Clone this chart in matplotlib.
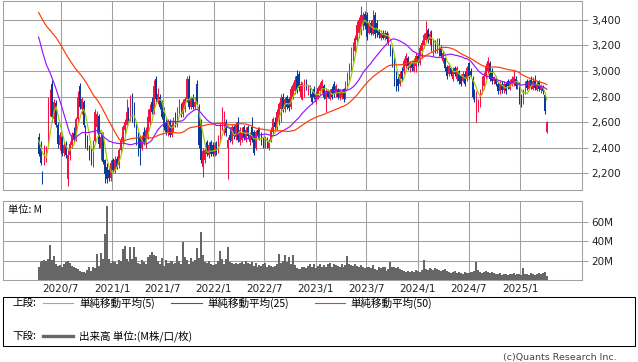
import numpy as np
import pandas as pd
import matplotlib
matplotlib.use("Agg")
import matplotlib.pyplot as plt
import matplotlib.dates as mdates
from matplotlib.patches import Rectangle
from matplotlib.lines import Line2D

# ---------------- data (weekly candles) ----------------
first_week = "2020-04-13"

opens = [
    2480, 2400, 2210, 2280, 2300, 2420, 2680, 2900, 2620, 2750,
    2580, 2420, 2480, 2360, 2430, 2150, 2340, 2420, 2510, 2460,
    2620, 2880, 2700, 2760, 2560, 2420, 2400, 2330, 2280, 2450,
    2560, 2650, 2400, 2500, 2300, 2250, 2220, 2160, 2300, 2220,
    2310, 2260, 2380, 2440, 2540, 2580, 2700, 2620, 2800, 2700,
    2560, 2500, 2480, 2400, 2520, 2440, 2480, 2600, 2760, 2680,
    2940, 2760, 2800, 2760, 2680, 2600, 2520, 2600, 2500, 2540,
    2660, 2580, 2680, 2740, 2660, 2700, 2780, 2940, 2720, 2800,
    2720, 2900, 2720, 2600, 2250, 2300, 2440, 2340, 2440, 2420,
    2350, 2430, 2380, 2470, 2560, 2600, 2600, 2400, 2500, 2450,
    2560, 2480, 2600, 2440, 2460, 2560, 2460, 2560, 2440, 2560,
    2520, 2400, 2540, 2480, 2500, 2460, 2420, 2470, 2400, 2450,
    2520, 2600, 2560, 2620, 2700, 2800, 2700, 2800, 2780, 2720,
    2800, 2840, 2960, 2980, 2800, 2820, 2820, 2920, 2840, 2880,
    2820, 2860, 2760, 2800, 2840, 2850, 2880, 2780, 2840, 2780,
    2860, 2900, 2820, 2860, 2790, 2800, 2860, 2800, 2880, 2950,
    3020, 3100, 3160, 3240, 3300, 3320, 3360, 3450, 3440, 3300,
    3380, 3290, 3440, 3380, 3310, 3260, 3300, 3260, 3300, 3220,
    3200, 3160, 3100, 2980, 2940, 2900, 3000, 3000, 3040, 3100,
    3020, 3060, 3000, 3040, 3120, 3060, 3160, 3200, 3240, 3320,
    3240, 3300, 3140, 3220, 3160, 3240, 3180, 3080, 3100, 3030,
    2980, 3020, 2940, 3020, 2940, 3000, 2960, 2920, 2980, 2940,
    3060, 3000, 2940, 2840, 2720, 2700, 2740, 2840, 2880, 2960,
    3000, 3060, 3000, 2920, 2940, 2900, 2840, 2900, 2850, 2900,
    2920, 2860, 2900, 2900, 2940, 2870, 2900, 2800, 2760, 2840,
    2920, 2860, 2930, 2860, 2920, 2850, 2910, 2850, 2880, 2810,
    2520,
]
highs = [
    2510, 2450, 2215, 2420, 2410, 2800, 2860, 2930, 2780, 2770,
    2600, 2520, 2500, 2440, 2450, 2380, 2450, 2520, 2560, 2640,
    2840, 2905, 2800, 2770, 2580, 2500, 2420, 2400, 2460, 2700,
    2690, 2660, 2520, 2520, 2310, 2280, 2250, 2300, 2320, 2330,
    2330, 2400, 2480, 2580, 2620, 2780, 2720, 2810, 2825, 2760,
    2600, 2520, 2500, 2500, 2560, 2560, 2700, 2740, 2800, 2930,
    2960, 2870, 2820, 2770, 2720, 2640, 2620, 2620, 2600, 2640,
    2680, 2720, 2780, 2750, 2780, 2800, 2960, 2970, 2800, 2820,
    2800, 2930, 2740, 2620, 2400, 2400, 2460, 2440, 2460, 2440,
    2440, 2450, 2500, 2600, 2720, 2690, 2620, 2480, 2560, 2580,
    2580, 2600, 2640, 2560, 2560, 2580, 2560, 2580, 2520, 2640,
    2540, 2540, 2560, 2560, 2520, 2480, 2490, 2480, 2470, 2560,
    2640, 2640, 2700, 2760, 2820, 2830, 2800, 2810, 2800, 2880,
    2910, 2960, 3010, 3000, 2920, 2910, 2940, 2940, 2890, 2890,
    2840, 2880, 2840, 2880, 2910, 2940, 2900, 2860, 2860, 2860,
    2880, 2920, 2900, 2870, 2860, 2860, 2870, 2920, 2990, 3060,
    3190, 3230, 3280, 3390, 3420, 3510, 3460, 3470, 3460, 3400,
    3400, 3480, 3460, 3400, 3330, 3320, 3320, 3320, 3310, 3300,
    3210, 3190, 3110, 3000, 2960, 3000, 3030, 3100, 3140, 3120,
    3080, 3080, 3100, 3140, 3140, 3200, 3240, 3300, 3390, 3340,
    3310, 3320, 3250, 3240, 3260, 3260, 3200, 3160, 3110, 3050,
    3060, 3030, 3030, 3040, 3040, 3010, 2980, 3000, 3000, 3040,
    3070, 3020, 2960, 2860, 2840, 2780, 2860, 2960, 2990, 3060,
    3110, 3080, 3020, 2960, 2960, 2920, 2920, 2920, 2920, 2910,
    2940, 2940, 2960, 3010, 2960, 2930, 2910, 2820, 2860, 2920,
    2940, 2940, 2960, 2950, 2970, 2920, 2930, 2900, 2890, 2820,
    2610,
]
lows = [
    2330, 2260, 2110, 2260, 2290, 2410, 2650, 2600, 2590, 2560,
    2400, 2380, 2330, 2330, 2320, 2100, 2300, 2400, 2440, 2450,
    2600, 2700, 2660, 2560, 2400, 2380, 2300, 2260, 2250, 2440,
    2510, 2400, 2300, 2270, 2120, 2120, 2140, 2140, 2200, 2200,
    2230, 2240, 2360, 2420, 2500, 2560, 2600, 2610, 2600, 2560,
    2420, 2330, 2260, 2380, 2420, 2400, 2470, 2580, 2660, 2660,
    2760, 2740, 2700, 2620, 2540, 2500, 2490, 2480, 2480, 2520,
    2560, 2560, 2660, 2640, 2640, 2680, 2760, 2700, 2700, 2700,
    2700, 2720, 2400, 2280, 2170, 2280, 2330, 2320, 2330, 2330,
    2330, 2340, 2360, 2440, 2540, 2500, 2490, 2150, 2440, 2430,
    2470, 2460, 2440, 2420, 2440, 2460, 2440, 2470, 2420, 2440,
    2340, 2380, 2470, 2460, 2420, 2400, 2400, 2400, 2380, 2440,
    2500, 2540, 2540, 2580, 2600, 2680, 2680, 2700, 2690, 2700,
    2780, 2820, 2830, 2840, 2780, 2770, 2800, 2850, 2810, 2800,
    2740, 2780, 2740, 2780, 2820, 2830, 2780, 2680, 2790, 2770,
    2780, 2800, 2800, 2780, 2770, 2780, 2760, 2780, 2860, 2930,
    3000, 3080, 3140, 3230, 3260, 3280, 3320, 3330, 3240, 3290,
    3280, 3280, 3260, 3270, 3260, 3240, 3250, 3240, 3230, 3200,
    3120, 3030, 2880, 2840, 2840, 2880, 2920, 2980, 3020, 3010,
    2990, 3000, 2990, 2990, 3040, 3050, 3100, 3180, 3220, 3220,
    3200, 3160, 3120, 3140, 3140, 3120, 3100, 3060, 3000, 2940,
    2960, 2960, 2920, 2960, 2920, 2900, 2880, 2910, 2880, 2920,
    2940, 2950, 2780, 2760, 2600, 2680, 2720, 2820, 2860, 2940,
    2980, 2920, 2900, 2900, 2880, 2820, 2820, 2830, 2830, 2820,
    2860, 2850, 2880, 2880, 2860, 2860, 2740, 2720, 2740, 2820,
    2850, 2850, 2860, 2850, 2850, 2840, 2840, 2830, 2820, 2660,
    2510,
]
closes = [
    2350, 2280, 2180, 2400, 2400, 2780, 2840, 2640, 2760, 2580,
    2430, 2500, 2350, 2420, 2340, 2340, 2430, 2500, 2460, 2620,
    2800, 2720, 2780, 2580, 2420, 2400, 2310, 2280, 2440, 2680,
    2660, 2430, 2480, 2290, 2190, 2150, 2160, 2280, 2220, 2300,
    2250, 2380, 2460, 2560, 2600, 2680, 2640, 2700, 2640, 2580,
    2440, 2360, 2400, 2480, 2440, 2540, 2640, 2700, 2680, 2880,
    2780, 2820, 2720, 2640, 2560, 2520, 2600, 2500, 2580, 2620,
    2580, 2700, 2760, 2660, 2760, 2780, 2940, 2720, 2780, 2720,
    2760, 2740, 2420, 2300, 2370, 2380, 2350, 2420, 2350, 2350,
    2420, 2360, 2480, 2580, 2650, 2660, 2510, 2460, 2460, 2560,
    2490, 2580, 2460, 2540, 2520, 2480, 2540, 2490, 2500, 2460,
    2360, 2520, 2490, 2530, 2440, 2420, 2470, 2410, 2450, 2540,
    2620, 2560, 2680, 2740, 2790, 2700, 2780, 2720, 2710, 2860,
    2890, 2930, 2850, 2870, 2900, 2880, 2920, 2870, 2880, 2820,
    2760, 2800, 2820, 2870, 2890, 2920, 2800, 2840, 2800, 2840,
    2800, 2820, 2880, 2800, 2850, 2840, 2780, 2900, 2970, 3040,
    3120, 3200, 3260, 3360, 3400, 3440, 3440, 3350, 3270, 3380,
    3300, 3400, 3290, 3300, 3280, 3300, 3260, 3300, 3250, 3280,
    3140, 3050, 2900, 2860, 2880, 2980, 2940, 3080, 3120, 3040,
    3060, 3020, 3080, 3120, 3060, 3180, 3220, 3280, 3300, 3240,
    3290, 3180, 3230, 3160, 3240, 3140, 3120, 3140, 3020, 2960,
    3040, 2980, 3000, 2980, 3020, 2920, 2900, 2980, 2900, 3020,
    2960, 2970, 2800, 2780, 2820, 2760, 2840, 2940, 2960, 3040,
    3080, 2940, 2920, 2950, 2900, 2840, 2900, 2850, 2900, 2840,
    2880, 2920, 2940, 2950, 2880, 2910, 2760, 2740, 2840, 2900,
    2870, 2920, 2880, 2920, 2870, 2900, 2860, 2880, 2840, 2690,
    2600,
]
# weekly volume, millions of shares
volumes_m = [
    13, 19, 20, 21, 20, 22, 36, 21, 25, 17,
    15, 16, 14, 17, 19, 20, 18, 15, 14, 12,
    11, 9, 8, 8, 7, 10, 13, 9, 14, 12,
    27, 15, 28, 22, 48, 77, 22, 18, 20, 19,
    17, 21, 20, 32, 35, 22, 19, 34, 22, 34,
    24, 18, 17, 21, 19, 17, 24, 26, 29, 26,
    25, 20, 17, 23, 15, 21, 18, 18, 20, 17,
    18, 25, 20, 17, 39, 24, 21, 17, 23, 19,
    21, 33, 23, 50, 26, 19, 18, 20, 17, 16,
    16, 17, 20, 30, 22, 17, 22, 34, 19, 18,
    17, 18, 17, 18, 19, 17, 20, 18, 17, 19,
    15, 18, 14, 16, 15, 17, 18, 14, 16, 15,
    14, 15, 17, 27, 18, 20, 26, 19, 24, 17,
    26, 16, 12, 11, 11, 13, 14, 12, 15, 17,
    14, 17, 12, 15, 17, 13, 16, 14, 17, 18,
    13, 17, 16, 15, 14, 17, 13, 16, 25, 17,
    16, 15, 17, 15, 14, 16, 13, 12, 14, 13,
    12, 16, 11, 10, 13, 12, 13, 14, 9, 11,
    19, 13, 14, 12, 13, 11, 10, 9, 8, 9,
    8, 9, 8, 10, 9, 8, 10, 21, 11, 10,
    12, 11, 10, 12, 11, 10, 9, 10, 11, 9,
    8, 7, 8, 9, 7, 8, 7, 6, 8, 7,
    7, 8, 8, 9, 19, 10, 8, 7, 8, 9,
    8, 7, 8, 7, 6, 6, 7, 5, 6, 6,
    5, 6, 6, 7, 5, 6, 6, 5, 12, 6,
    6, 5, 7, 6, 5, 6, 7, 6, 7, 8,
    4,
]
# estimated weekly closes before the first visible week (feed the moving averages)
prior_closes = [
    3600, 3640, 3680, 3620, 3660, 3700, 3650, 3610, 3580, 3620,
    3670, 3700, 3720, 3680, 3640, 3600, 3630, 3660, 3690, 3710,
    3680, 3650, 3620, 3600, 3640, 3670, 3700, 3680, 3650, 3630,
    3660, 3690, 3720, 3700, 3660, 3630, 3610, 3640, 3670, 3650, 3620,
    3200, 2800, 2450, 2350, 2500, 2450, 2500, 2480,
]
ma_windows = [5, 25, 50]
ma_labels = ["単純移動平均(5)", "単純移動平均(25)", "単純移動平均(50)"]
price_ticks = [2200, 2400, 2600, 2800, 3000, 3200, 3400]
volume_ticks = [20, 40, 60]
date_ticks = ["2020/7", "2021/1", "2021/7", "2022/1", "2022/7",
              "2023/1", "2023/7", "2024/1", "2024/7", "2025/1"]

# ---------------- style ----------------
RED = "#f21445"
BLUE = "#0a3a9a"
MA_COLORS = ["#99cc00", "#9a14ff", "#ff3a00"]
GRID = "#a0a0a0"
VOLC = "#666666"
JP = ["Noto Sans CJK JP", "DejaVu Sans"]
plt.rcParams["font.family"] = ["DejaVu Sans"]

W, H = 638, 362
fig = plt.figure(figsize=(W / 100, H / 100), dpi=100)


def box(l, t, r, b):
    return [l / W, 1 - b / H, (r - l) / W, (b - t) / H]


ax_p = fig.add_axes(box(3, 1, 582, 190))
ax_v = fig.add_axes(box(3, 201, 582, 280))

dates = pd.date_range(first_week, periods=len(closes), freq="7D")
x = mdates.date2num(dates)
x_lo, x_hi = x[0] - 18.2 * 7, x[0] + 278 * 7
tick_x = [mdates.date2num(pd.Timestamp(int(s.split("/")[0]), int(s.split("/")[1]), 1))
          for s in date_ticks]

for ax in (ax_p, ax_v):
    ax.set_xlim(x_lo, x_hi)
    ax.set_xticks(tick_x)
    ax.grid(True, color=GRID, lw=0.75)
    ax.set_axisbelow(True)
    for s in ax.spines.values():
        s.set_color(GRID)
        s.set_linewidth(0.75)
    ax.yaxis.tick_right()
    ax.tick_params(axis="y", direction="out", length=4.3, width=0.75,
                   color=GRID, labelsize=7.5, pad=2.5, labelcolor="#222222")
    ax.tick_params(axis="x", length=0, labelsize=7.5, labelcolor="#222222", pad=3)

ax_p.tick_params(axis="x", labelbottom=False)
ax_v.set_xticklabels(date_ticks)

# price panel
o = np.array(opens, float)
c = np.array(closes, float)
hi = np.array(highs, float)
lo = np.array(lows, float)
up = c >= o
cols = np.where(up, RED, BLUE)
ax_p.vlines(x, lo, hi, colors=cols, lw=0.75, zorder=2)
ax_p.bar(x, np.abs(c - o), bottom=np.minimum(o, c), width=5.5, color=cols,
         lw=0, zorder=3)

all_close = pd.Series(prior_closes + closes, dtype=float)
n_prior = len(prior_closes)
for w, col in zip(ma_windows, MA_COLORS):
    ma = all_close.rolling(w).mean().to_numpy()[n_prior:]
    ax_p.plot(x, ma, color=col, lw=0.85, zorder=4)

ax_p.set_ylim(2066.7, 3549)
ax_p.set_yticks(price_ticks)
ax_p.set_yticklabels([f"{v:,}" for v in price_ticks])

# volume panel
ax_v.bar(x, volumes_m, width=7.2, color=VOLC, lw=0, zorder=2)
ax_v.set_ylim(0, 82)
ax_v.set_yticks(volume_ticks)
ax_v.set_yticklabels([f"{v}M" for v in volume_ticks])

fig.text(8 / W, 1 - 210 / H, "単位: M", fontsize=7.4, family=JP,
         va="center", ha="left", color="#111111")

# legend box
fig.add_artist(Rectangle((3 / W, 1 - 346 / H), 632 / W, 49 / H,
                         transform=fig.transFigure, fill=False,
                         ec="black", lw=0.75))
y1, y2 = 1 - 303 / H, 1 - 336 / H
LFS = 7.6
fig.text(12 / W, y1, "上段:", fontsize=LFS, family=JP, va="center")
fig.text(12 / W, y2, "下段:", fontsize=LFS, family=JP, va="center")
seg = [(43, 73, 79), (171, 202, 207), (315, 345, 350)]
for (a, b, t), col, lab in zip(seg, MA_COLORS, ma_labels):
    fig.add_artist(Line2D([a / W, b / W], [y1, y1], color=col, lw=0.8,
                          transform=fig.transFigure))
    fig.text(t / W, y1, lab, fontsize=LFS, family=JP, va="center")
fig.add_artist(Line2D([43 / W, 73 / W], [y2, y2], color=VOLC, lw=2.4,
                      transform=fig.transFigure))
fig.text(79 / W, y2, "出来高 単位:(M株/口/枚)", fontsize=LFS, family=JP, va="center")

fig.text(617 / W, 1 - 357.5 / H, "(c)Quants Research Inc.", fontsize=6.8,
         ha="right", va="center", color="#444444")

fig.savefig("out.png", dpi=100)
